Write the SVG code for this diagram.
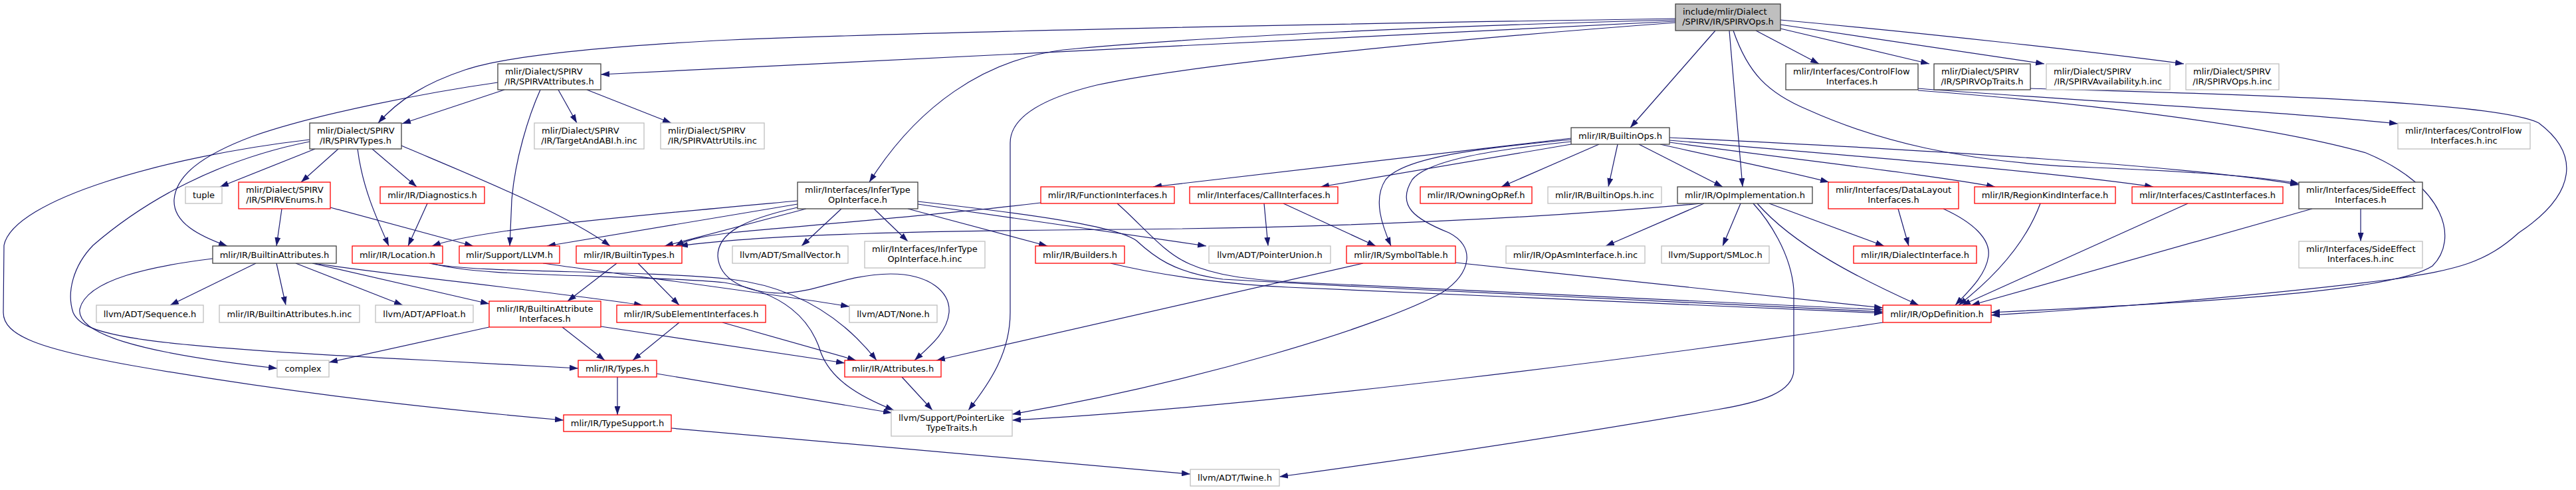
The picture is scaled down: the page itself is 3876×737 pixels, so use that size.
<svg xmlns="http://www.w3.org/2000/svg" width="3876" height="737" viewBox="0 0 3876 737">
<style>
text{font-family:"DejaVu Sans","Liberation Sans",sans-serif;font-size:13px;fill:#000}
.c{text-anchor:middle}
.s{text-anchor:start}
rect{fill:#fff;stroke-width:1.3}
.k{stroke:#404040}
.r{stroke:#ff0000}
.g{stroke:#bfbfbf}
.m{fill:#bfbfbf;stroke:#404040}
#edges path{fill:none;stroke:#191970;stroke-width:1.2;marker-end:url(#ah)}
</style>
<defs>
<marker id="ah" viewBox="0 0 13 9" refX="13" refY="4.5" markerWidth="13" markerHeight="9" markerUnits="userSpaceOnUse" orient="auto"><path d="M0,0 L13,4.5 L0,9 z" fill="#191970"/></marker>
</defs>
<rect x="0" y="0" width="3876" height="737" style="fill:#fff;stroke:none"/>
<g id="edges">
<path d="M2521,32 L904,112"/>
<path d="M2521,28 C2000,36 1400,48 1100,60 C900,70 760,85 700,105 C640,125 600,150 569,185"/>
<path d="M2521,30 C2200,38 1800,55 1600,75 C1480,90 1380,160 1308,274"/>
<path d="M2521,34 C2200,58 1800,95 1650,128 C1560,150 1520,180 1520,215 L1520,470 C1520,530 1490,575 1457,617"/>
<path d="M2581,46 L2453,192"/>
<path d="M2602,46 L2622,281"/>
<path d="M2608,46 C2630,110 2660,140 2720,165 C2820,210 2950,245 3150,252 C3300,258 3400,265 3459,276"/>
<path d="M2642,46 L2737,96"/>
<path d="M2679,43 L2903,96"/>
<path d="M2679,37 L3076,96"/>
<path d="M2679,30 C2900,50 3150,78 3286,96"/>
<path d="M759,135 L605,186"/>
<path d="M749,124 C650,138 480,170 380,205 C300,235 265,265 262,300 C260,335 300,355 342,370"/>
<path d="M813,135 C795,175 775,240 770,300 L767,370"/>
<path d="M840,135 L868,185"/>
<path d="M883,135 L1010,185"/>
<path d="M474,224 L331,281"/>
<path d="M509,224 L453,274"/>
<path d="M538,224 C545,280 565,325 585,370"/>
<path d="M560,224 L627,281"/>
<path d="M604,219 C700,260 850,320 918,370"/>
<path d="M466,213 C330,240 220,300 140,369 C110,400 100,440 110,470 C125,505 200,520 646,542 L870,554"/>
<path d="M466,210 C250,235 20,300 6,369 L5,470 C5,505 60,525 200,550 C400,585 600,610 848,632"/>
<path d="M424,314 L416,370"/>
<path d="M497,312 L712,370"/>
<path d="M643,306 L614,370"/>
<path d="M1200,302 C950,325 720,345 650,370"/>
<path d="M1200,307 L823,370"/>
<path d="M1200,312 C1120,330 1080,350 1080,385 C1082,420 1120,440 1175,441 C1230,440 1270,413 1340,412 C1400,412 1430,440 1428,470 C1425,500 1400,520 1376,542"/>
<path d="M1213,314 L1000,370"/>
<path d="M1266,314 L1206,370"/>
<path d="M1315,314 L1366,363"/>
<path d="M1366,314 L1576,370"/>
<path d="M1381,303 C1550,322 1680,340 1710,362 C1735,385 1765,410 1840,420 C2200,440 2600,460 2833,469"/>
<path d="M1381,307 L1815,370"/>
<path d="M1902,306 L1908,370"/>
<path d="M1931,306 L2070,370"/>
<path d="M1566,305 C1400,325 1200,340 1100,350 C1060,355 1035,360 1016,370"/>
<path d="M1681,306 C1720,340 1750,380 1790,397 C1830,415 1880,420 1938,424 C2300,440 2650,458 2833,466"/>
<path d="M2364,208 L1735,281"/>
<path d="M2364,210 C2200,225 2110,240 2085,270 C2065,300 2080,340 2093,370"/>
<path d="M2364,213 C2250,225 2150,240 2125,270 C2100,310 2130,330 2180,350 C2220,370 2215,410 2170,440 C2080,490 1800,575 1523,623"/>
<path d="M2364,217 L1987,281"/>
<path d="M2406,217 L2259,281"/>
<path d="M2434,217 L2420,281"/>
<path d="M2466,217 L2592,281"/>
<path d="M2498,217 C2600,240 2700,260 2752,274"/>
<path d="M2512,214 C2700,240 2900,262 3002,281"/>
<path d="M2512,211 C2800,235 3100,260 3240,281"/>
<path d="M2512,207 C2900,225 3300,250 3459,278"/>
<path d="M2560,306 C2300,330 2000,342 1700,345 C1400,347 1150,352 1022,370"/>
<path d="M2564,306 L2416,370"/>
<path d="M2619,306 L2592,370"/>
<path d="M2638,306 C2660,330 2695,380 2699,436 L2699,556 C2699,590 2650,605 2584,616 C2300,665 2050,700 1925,717"/>
<path d="M2644,306 C2700,370 2800,420 2887,459"/>
<path d="M2662,306 L2835,370"/>
<path d="M2856,314 L2872,370"/>
<path d="M2924,314 C2970,335 2995,360 2992,385 C2988,415 2960,440 2942,459"/>
<path d="M3070,306 C3050,360 3010,410 2947,459"/>
<path d="M3292,306 L2952,459"/>
<path d="M3552,314 L3552,363"/>
<path d="M3479,314 L2966,459"/>
<path d="M2886,133 C3100,150 3400,165 3608,186"/>
<path d="M2886,136 C3100,152 3400,185 3560,230 C3680,280 3700,360 3660,400 C3600,440 3300,455 2996,470"/>
<path d="M3055,133 C3300,140 3750,150 3820,185 C3880,230 3880,290 3790,350 C3740,395 3700,405 3600,420 C3400,445 3150,465 2996,474"/>
<path d="M2833,485 C2500,535 1900,612 1523,632"/>
<path d="M2051,396 L1409,542"/>
<path d="M2190,395 L2833,463"/>
<path d="M1671,396 C1750,415 1850,428 1938,432 C2300,450 2600,462 2833,471"/>
<path d="M646,396 C720,412 950,405 1100,420 C1200,432 1270,480 1319,542"/>
<path d="M650,396 C720,418 950,412 1090,425 C1180,440 1220,480 1235,530 C1250,570 1290,595 1345,617"/>
<path d="M817,396 C950,415 1150,440 1278,461"/>
<path d="M385,396 L256,459"/>
<path d="M416,396 L430,459"/>
<path d="M445,396 L606,459"/>
<path d="M470,396 L736,457"/>
<path d="M472,396 C600,415 800,435 967,459"/>
<path d="M320,389 C230,400 130,420 120,465 C115,500 200,530 417,554"/>
<path d="M928,396 L854,453"/>
<path d="M960,396 L1022,459"/>
<path d="M736,492 L495,545"/>
<path d="M846,492 L910,542"/>
<path d="M904,491 L1271,546"/>
<path d="M1022,485 L952,542"/>
<path d="M1087,485 L1288,542"/>
<path d="M929,567 L929,624"/>
<path d="M988,562 L1342,621"/>
<path d="M1357,567 L1403,617"/>
<path d="M1010,644 L1791,713"/>
</g>
<g id="n_main"><rect class="m" x="2521" y="6" width="158" height="40"/><text class="s" x="2532" y="22">include/mlir/Dialect</text><text class="c" x="2600" y="37">/SPIRV/IR/SPIRVOps.h</text></g>
<g id="n_spirvattributes"><rect class="k" x="749" y="96" width="155" height="39"/><text class="s" x="760" y="112">mlir/Dialect/SPIRV</text><text class="c" x="826.5" y="127">/IR/SPIRVAttributes.h</text></g>
<g id="n_controlflow"><rect class="k" x="2687" y="96" width="199" height="39"/><text class="s" x="2698" y="112">mlir/Interfaces/ControlFlow</text><text class="c" x="2786.5" y="127">Interfaces.h</text></g>
<g id="n_optraits"><rect class="k" x="2910" y="96" width="145" height="39"/><text class="s" x="2921" y="112">mlir/Dialect/SPIRV</text><text class="c" x="2982.5" y="127">/IR/SPIRVOpTraits.h</text></g>
<g id="n_availability"><rect class="g" x="3079" y="96" width="186" height="39"/><text class="s" x="3090" y="112">mlir/Dialect/SPIRV</text><text class="c" x="3172" y="127">/IR/SPIRVAvailability.h.inc</text></g>
<g id="n_opsinc"><rect class="g" x="3289" y="96" width="140" height="39"/><text class="s" x="3300" y="112">mlir/Dialect/SPIRV</text><text class="c" x="3359" y="127">/IR/SPIRVOps.h.inc</text></g>
<g id="n_spirvtypes"><rect class="k" x="466" y="185" width="138" height="39"/><text class="s" x="477" y="201">mlir/Dialect/SPIRV</text><text class="c" x="535" y="216">/IR/SPIRVTypes.h</text></g>
<g id="n_targetabi"><rect class="g" x="804" y="185" width="165" height="39"/><text class="s" x="815" y="201">mlir/Dialect/SPIRV</text><text class="c" x="886.5" y="216">/IR/TargetAndABI.h.inc</text></g>
<g id="n_attrutils"><rect class="g" x="994" y="185" width="156" height="39"/><text class="s" x="1005" y="201">mlir/Dialect/SPIRV</text><text class="c" x="1072" y="216">/IR/SPIRVAttrUtils.inc</text></g>
<g id="n_builtinops"><rect class="k" x="2364" y="192" width="148" height="25"/><text class="c" x="2438" y="209">mlir/IR/BuiltinOps.h</text></g>
<g id="n_controlflowinc"><rect class="g" x="3608" y="185" width="199" height="39"/><text class="s" x="3619" y="201">mlir/Interfaces/ControlFlow</text><text class="c" x="3707.5" y="216">Interfaces.h.inc</text></g>
<g id="n_tuple"><rect class="g" x="279" y="281" width="55" height="25"/><text class="c" x="306.5" y="298">tuple</text></g>
<g id="n_spirvenums"><rect class="r" x="359" y="274" width="138" height="40"/><text class="s" x="370" y="290">mlir/Dialect/SPIRV</text><text class="c" x="428" y="305">/IR/SPIRVEnums.h</text></g>
<g id="n_diagnostics"><rect class="r" x="572" y="281" width="157" height="25"/><text class="c" x="650.5" y="298">mlir/IR/Diagnostics.h</text></g>
<g id="n_infertype"><rect class="k" x="1200" y="274" width="181" height="40"/><text class="s" x="1211" y="290">mlir/Interfaces/InferType</text><text class="c" x="1290.5" y="305">OpInterface.h</text></g>
<g id="n_functioninterfaces"><rect class="r" x="1566" y="281" width="201" height="25"/><text class="c" x="1666.5" y="298">mlir/IR/FunctionInterfaces.h</text></g>
<g id="n_callinterfaces"><rect class="r" x="1790" y="281" width="223" height="25"/><text class="c" x="1901.5" y="298">mlir/Interfaces/CallInterfaces.h</text></g>
<g id="n_owningopref"><rect class="r" x="2137" y="281" width="168" height="25"/><text class="c" x="2221" y="298">mlir/IR/OwningOpRef.h</text></g>
<g id="n_builtinopsinc"><rect class="g" x="2329" y="281" width="171" height="25"/><text class="c" x="2414.5" y="298">mlir/IR/BuiltinOps.h.inc</text></g>
<g id="n_opimpl"><rect class="k" x="2524" y="281" width="203" height="25"/><text class="c" x="2625.5" y="298">mlir/IR/OpImplementation.h</text></g>
<g id="n_datalayout"><rect class="r" x="2751" y="274" width="196" height="40"/><text class="s" x="2762" y="290">mlir/Interfaces/DataLayout</text><text class="c" x="2849" y="305">Interfaces.h</text></g>
<g id="n_regionkind"><rect class="r" x="2971" y="281" width="212" height="25"/><text class="c" x="3077" y="298">mlir/IR/RegionKindInterface.h</text></g>
<g id="n_castinterfaces"><rect class="r" x="3208" y="281" width="227" height="25"/><text class="c" x="3321.5" y="298">mlir/Interfaces/CastInterfaces.h</text></g>
<g id="n_sideeffect"><rect class="k" x="3459" y="274" width="186" height="40"/><text class="s" x="3470" y="290">mlir/Interfaces/SideEffect</text><text class="c" x="3552" y="305">Interfaces.h</text></g>
<g id="n_builtinattributes"><rect class="k" x="320" y="370" width="186" height="26"/><text class="c" x="413" y="388">mlir/IR/BuiltinAttributes.h</text></g>
<g id="n_location"><rect class="r" x="530" y="370" width="136" height="26"/><text class="c" x="598" y="388">mlir/IR/Location.h</text></g>
<g id="n_llvm"><rect class="r" x="691" y="370" width="151" height="26"/><text class="c" x="766.5" y="388">mlir/Support/LLVM.h</text></g>
<g id="n_builtintypes"><rect class="r" x="867" y="370" width="159" height="26"/><text class="c" x="946.5" y="388">mlir/IR/BuiltinTypes.h</text></g>
<g id="n_smallvector"><rect class="g" x="1102" y="370" width="174" height="26"/><text class="c" x="1189" y="388">llvm/ADT/SmallVector.h</text></g>
<g id="n_infertypeinc"><rect class="g" x="1301" y="363" width="181" height="40"/><text class="s" x="1312" y="379">mlir/Interfaces/InferType</text><text class="c" x="1391.5" y="394">OpInterface.h.inc</text></g>
<g id="n_builders"><rect class="r" x="1558" y="370" width="134" height="26"/><text class="c" x="1625" y="388">mlir/IR/Builders.h</text></g>
<g id="n_pointerunion"><rect class="g" x="1819" y="370" width="183" height="26"/><text class="c" x="1910.5" y="388">llvm/ADT/PointerUnion.h</text></g>
<g id="n_symboltable"><rect class="r" x="2026" y="370" width="164" height="26"/><text class="c" x="2108" y="388">mlir/IR/SymbolTable.h</text></g>
<g id="n_opasminc"><rect class="g" x="2266" y="370" width="209" height="26"/><text class="c" x="2370.5" y="388">mlir/IR/OpAsmInterface.h.inc</text></g>
<g id="n_smloc"><rect class="g" x="2500" y="370" width="162" height="26"/><text class="c" x="2581" y="388">llvm/Support/SMLoc.h</text></g>
<g id="n_dialectinterface"><rect class="r" x="2789" y="370" width="185" height="26"/><text class="c" x="2881.5" y="388">mlir/IR/DialectInterface.h</text></g>
<g id="n_sideeffectinc"><rect class="g" x="3459" y="363" width="186" height="40"/><text class="s" x="3470" y="379">mlir/Interfaces/SideEffect</text><text class="c" x="3552" y="394">Interfaces.h.inc</text></g>
<g id="n_sequence"><rect class="g" x="145" y="459" width="161" height="26"/><text class="c" x="225.5" y="477">llvm/ADT/Sequence.h</text></g>
<g id="n_builtinattributesinc"><rect class="g" x="330" y="459" width="211" height="26"/><text class="c" x="435.5" y="477">mlir/IR/BuiltinAttributes.h.inc</text></g>
<g id="n_apfloat"><rect class="g" x="565" y="459" width="147" height="26"/><text class="c" x="638.5" y="477">llvm/ADT/APFloat.h</text></g>
<g id="n_builtinattrinterfaces"><rect class="r" x="736" y="453" width="168" height="39"/><text class="s" x="747" y="469">mlir/IR/BuiltinAttribute</text><text class="c" x="820" y="484">Interfaces.h</text></g>
<g id="n_subelement"><rect class="r" x="928" y="459" width="224" height="26"/><text class="c" x="1040" y="477">mlir/IR/SubElementInterfaces.h</text></g>
<g id="n_none"><rect class="g" x="1278" y="459" width="132" height="26"/><text class="c" x="1344" y="477">llvm/ADT/None.h</text></g>
<g id="n_opdefinition"><rect class="r" x="2833" y="459" width="163" height="26"/><text class="c" x="2914.5" y="477">mlir/IR/OpDefinition.h</text></g>
<g id="n_complex"><rect class="g" x="417" y="542" width="78" height="25"/><text class="c" x="456" y="559">complex</text></g>
<g id="n_types"><rect class="r" x="870" y="542" width="118" height="25"/><text class="c" x="929" y="559">mlir/IR/Types.h</text></g>
<g id="n_attributes"><rect class="r" x="1271" y="542" width="145" height="25"/><text class="c" x="1343.5" y="559">mlir/IR/Attributes.h</text></g>
<g id="n_typesupport"><rect class="r" x="848" y="624" width="162" height="25"/><text class="c" x="929" y="641">mlir/IR/TypeSupport.h</text></g>
<g id="n_pointerlike"><rect class="g" x="1341" y="617" width="182" height="39"/><text class="s" x="1352" y="633">llvm/Support/PointerLike</text><text class="c" x="1432" y="648">TypeTraits.h</text></g>
<g id="n_twine"><rect class="g" x="1791" y="706" width="134" height="25"/><text class="c" x="1858" y="723">llvm/ADT/Twine.h</text></g>
</svg>
